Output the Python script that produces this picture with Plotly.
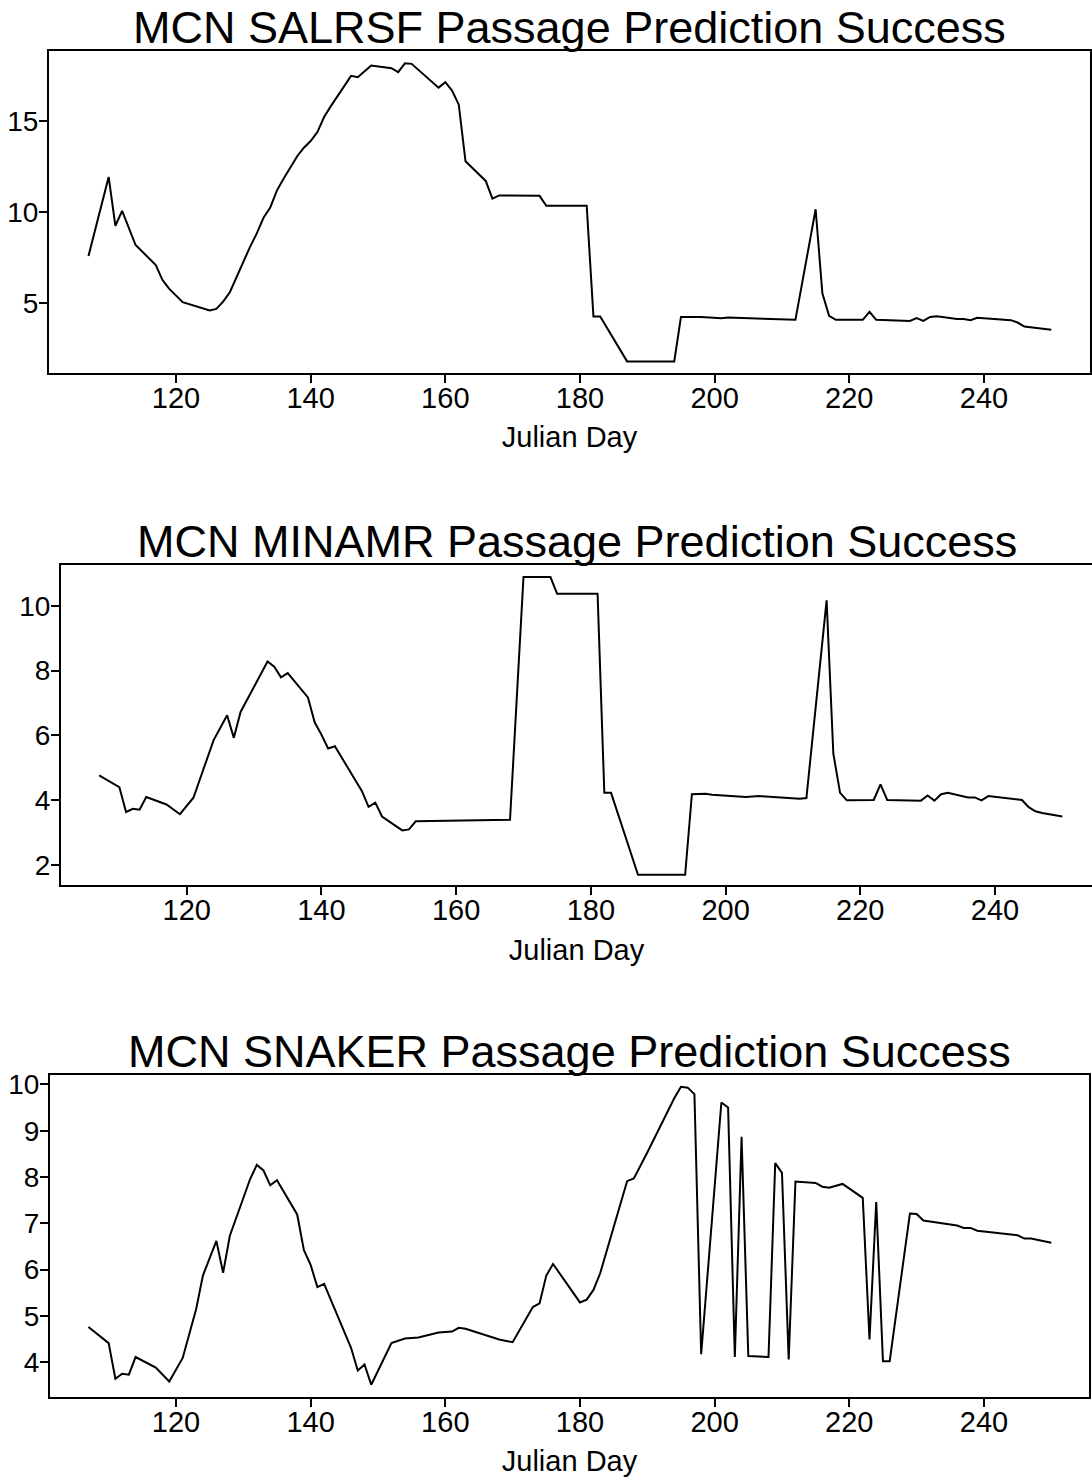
"""
Three stacked passage-prediction line charts (MCN), one per stock.
"""

import plotly.graph_objects as go

W, H = 1092, 1480
INK = "#000000"
FONT = "Liberation Sans, Arial, sans-serif"

# ── data ────────────────────────────────────────────────────────────────────
salrsf_day = [107, 110, 111, 112, 114, 117, 118, 119, 121, 125, 126, 127, 128, 129,
              130, 131, 132, 133, 134, 135, 136, 137, 138, 139, 140, 141, 142, 143,
              144, 145, 146, 147, 149, 152, 153, 154, 155, 159, 160, 161, 162, 163,
              166, 167, 168, 174, 175, 181, 182, 183, 187, 194, 195, 198, 201, 202,
              206, 210, 212, 215, 216, 217, 218, 222, 223, 224, 229, 230, 231, 232,
              233, 236, 237, 238, 239, 244, 245, 246, 247, 250]
salrsf_val = [7.58, 11.94, 9.25, 10.07, 8.19, 7.09, 6.26, 5.77, 5.04, 4.58, 4.67, 5.07,
              5.59, 6.45, 7.31, 8.09, 8.83, 9.69, 10.26, 11.2, 11.85, 12.49, 13.08,
              13.55, 13.92, 14.41, 15.24, 15.84, 16.39, 16.94, 17.51, 17.43, 18.08,
              17.93, 17.71, 18.2, 18.17, 16.86, 17.16, 16.7, 15.92, 12.8, 11.72, 10.75,
              10.92, 10.9, 10.35, 10.35, 4.25, 4.25, 1.78, 1.78, 4.23, 4.23, 4.16, 4.2,
              4.16, 4.1, 4.07, 10.16, 5.53, 4.29, 4.07, 4.07, 4.51, 4.07, 4.01, 4.16,
              4.01, 4.23, 4.27, 4.12, 4.12, 4.05, 4.18, 4.05, 3.92, 3.7, 3.65, 3.52]

minamr_day = [107, 110, 111, 112, 113, 114, 117, 119, 121, 124, 126, 127, 128, 130,
              132, 133, 134, 135, 138, 139, 140, 141, 142, 146, 147, 148, 149, 152,
              153, 154, 160, 168, 170, 174, 175, 181, 182, 183, 187, 194, 195, 197,
              198, 203, 205, 211, 212, 215, 216, 217, 218, 222, 223, 224, 229, 230,
              231, 232, 233, 236, 237, 238, 239, 244, 245, 246, 247, 250]
minamr_val = [4.76, 4.40, 3.63, 3.73, 3.70, 4.09, 3.86, 3.56, 4.07, 5.85, 6.62, 5.92,
              6.72, 7.51, 8.28, 8.12, 7.79, 7.92, 7.17, 6.40, 6.02, 5.59, 5.66, 4.28,
              3.79, 3.92, 3.49, 3.06, 3.09, 3.34, 3.37, 3.39, 10.89, 10.89, 10.37,
              10.37, 4.22, 4.22, 1.69, 1.69, 4.18, 4.19, 4.16, 4.09, 4.12, 4.04, 4.06,
              10.17, 5.43, 4.22, 3.99, 4.0, 4.48, 4.0, 3.98, 4.14, 3.98, 4.18, 4.22,
              4.08, 4.08, 3.99, 4.12, 4.0, 3.78, 3.65, 3.6, 3.49]

snaker_day = [107, 110, 111, 112, 113, 114, 117, 119, 121, 123, 124, 126, 127, 128,
              131, 132, 133, 134, 135, 138, 139, 140, 141, 142, 146, 147, 148, 149,
              152, 154, 156, 159, 161, 162, 163, 168, 170, 173, 174, 175, 176, 180,
              181, 182, 183, 187, 188, 189, 190, 194, 195, 196, 197, 198, 201, 202,
              203, 204, 205, 208, 209, 210, 211, 212, 215, 216, 217, 219, 222, 223,
              224, 225, 226, 229, 230, 231, 233, 236, 237, 238, 239, 244, 245, 246,
              247, 250]
snaker_val = [4.76, 4.41, 3.64, 3.75, 3.73, 4.11, 3.88, 3.58, 4.09, 5.15, 5.87, 6.62,
              5.93, 6.73, 7.95, 8.26, 8.14, 7.82, 7.93, 7.19, 6.42, 6.1, 5.62, 5.69,
              4.31, 3.82, 3.95, 3.51, 4.41, 4.51, 4.53, 4.64, 4.66, 4.74, 4.72, 4.49,
              4.43, 5.19, 5.27, 5.87, 6.12, 5.29, 5.35, 5.56, 5.92, 7.91, 7.97, 8.25,
              8.53, 9.70, 9.95, 9.93, 9.79, 4.17, 9.61, 9.50, 4.11, 8.87, 4.13, 4.11,
              8.30, 8.09, 4.06, 7.90, 7.87, 7.79, 7.77, 7.85, 7.55, 4.49, 7.46, 4.02,
              4.02, 7.21, 7.20, 7.06, 7.01, 6.95, 6.90, 6.90, 6.84, 6.77, 6.74, 6.67,
              6.67, 6.58]

titles = ["MCN SALRSF Passage Prediction Success",
          "MCN MINAMR Passage Prediction Success",
          "MCN SNAKER Passage Prediction Success"]
x_ticks = [120, 140, 160, 180, 200, 220, 240]
y_ticks = [[5, 10, 15], [2, 4, 6, 8, 10], [4, 5, 6, 7, 8, 9, 10]]

# ── panel geometry (pixels: left, right, top, bottom) and axis ranges ──────
panels = [
    dict(box=(49, 1090, 45.5, 368.5), xr=[101.14, 255.75], yr=[1.14, 18.86]),
    dict(box=(61, 1092, 561, 883), xr=[101.34, 254.4], yr=[1.36, 11.27], no_right=True),
    dict(box=(50, 1089, 1073.5, 1396.5), xr=[101.29, 255.6], yr=[3.25, 10.2]),
]
series = [(salrsf_day, salrsf_val), (minamr_day, minamr_val), (snaker_day, snaker_val)]


def _axis_common(size: int) -> dict:
    return dict(
        showline=True, linecolor=INK, linewidth=2,
        ticks="outside", ticklen=8, tickwidth=2, tickcolor=INK,
        showgrid=False, zeroline=False,
        tickfont=dict(family=FONT, size=size, color=INK),
    )


fig = go.Figure()
layout = dict(
    width=W, height=H,
    margin=dict(l=0, r=0, t=0, b=0),
    paper_bgcolor="#ffffff", plot_bgcolor="#ffffff",
    showlegend=False,
    font=dict(family=FONT, color=INK),
    annotations=[],
)

for i, (p, (xd, yd)) in enumerate(zip(panels, series), start=1):
    l, r, t, b = p["box"]
    sfx = "" if i == 1 else str(i)
    fig.add_trace(go.Scatter(
        x=xd, y=yd, mode="lines",
        line=dict(color=INK, width=2),
        xaxis=f"x{sfx}", yaxis=f"y{sfx}",
        hoverinfo="x+y",
    ))
    layout[f"xaxis{sfx}"] = dict(
        _axis_common(29),
        domain=[l / W, r / W],
        range=p["xr"], anchor=f"y{sfx}",
        tickvals=x_ticks, ticklabelstandoff=-10,
        mirror=True,
        title=dict(text="Julian Day", standoff=14,
                   font=dict(family=FONT, size=29, color=INK)),
    )
    layout[f"yaxis{sfx}"] = dict(
        _axis_common(28),
        domain=[1 - b / H, 1 - t / H],
        range=p["yr"], anchor=f"x{sfx}",
        tickvals=y_ticks[i - 1], ticklabelstandoff=-5,
        mirror=not p.get("no_right", False),
    )
    layout["annotations"].append(dict(
        text=titles[i - 1], showarrow=False,
        xref="paper", yref="paper",
        x=(l + r) / 2 / W, y=1 - t / H,
        xanchor="center", yanchor="bottom", yshift=-4,
        font=dict(family=FONT, size=45, color=INK),
    ))

fig.update_layout(**layout)
# drop the default page margin so the figure sits at the window's origin
fig.write_html("out.html",
               config={"displayModeBar": False},
               post_script="document.body.style.margin='0';"
                           "document.body.style.overflow='hidden';")
